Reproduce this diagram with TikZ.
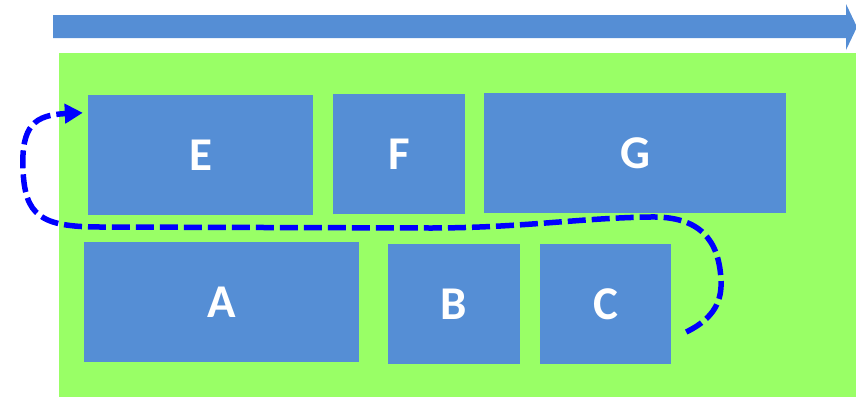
\documentclass[tikz,border=0pt]{standalone}
\usepackage{fontspec}
\setmainfont{Carlito}
\usetikzlibrary{arrows.meta}
\definecolor{boxblue}{HTML}{558ED5}
\definecolor{bggreen}{HTML}{99FF66}
\definecolor{pathblue}{HTML}{0000FF}
\tikzset{
  blk/.style={fill=boxblue, draw=none, minimum height=120pt, inner sep=0pt,
    text=white, font=\fontsize{47}{50}\selectfont\bfseries},
  route/.style={draw=pathblue, line width=5.5pt, dash pattern=on 18pt off 6pt},
}
\begin{document}
\begin{tikzpicture}[x=1pt,y=-1pt]
\useasboundingbox (0,0) rectangle (856,399);
% top arrow
\fill[boxblue] (53,15) -- (846,15) -- (846,4) -- (857,27) -- (846,50) -- (846,38) -- (53,38) -- cycle;
% green background
\fill[bggreen] (59,53) rectangle (856,397);
% blocks
\node[blk, minimum width=225pt] (E) at (200.5,155) {\raisebox{-2pt}{E}};
\node[blk, minimum width=132pt] (F) at (399,154) {\raisebox{-2pt}{F}};
\node[blk, minimum width=302pt] (G) at (635,153) {\raisebox{-2pt}{G}};
\node[blk, minimum width=275pt] (A) at (221.5,302) {\raisebox{-2pt}{A}};
\node[blk, minimum width=132pt] (B) at (454,304) {\raisebox{-2pt}{B}};
\node[blk, minimum width=131pt] (C) at (605.5,304) {\raisebox{-2pt}{C}};
% route
\coordinate (s) at ([xshift=15pt,yshift=-28pt]C.east);
\coordinate (t) at ([xshift=-5pt,yshift=-18pt]E.north west);
\draw[route, -{Triangle[length=18pt,width=19pt]}]
  (s) .. controls (715,318) and (722,300) .. (721,280)
      .. controls (719,240) and (700,216) .. (650,217)
      .. controls (580,218) and (520,228) .. (430,228)
      -- (100,227)
      .. controls (40,227) and (25,215) .. (23,170)
      .. controls (21,125) and (35,115) .. (t);
\end{tikzpicture}
\end{document}
